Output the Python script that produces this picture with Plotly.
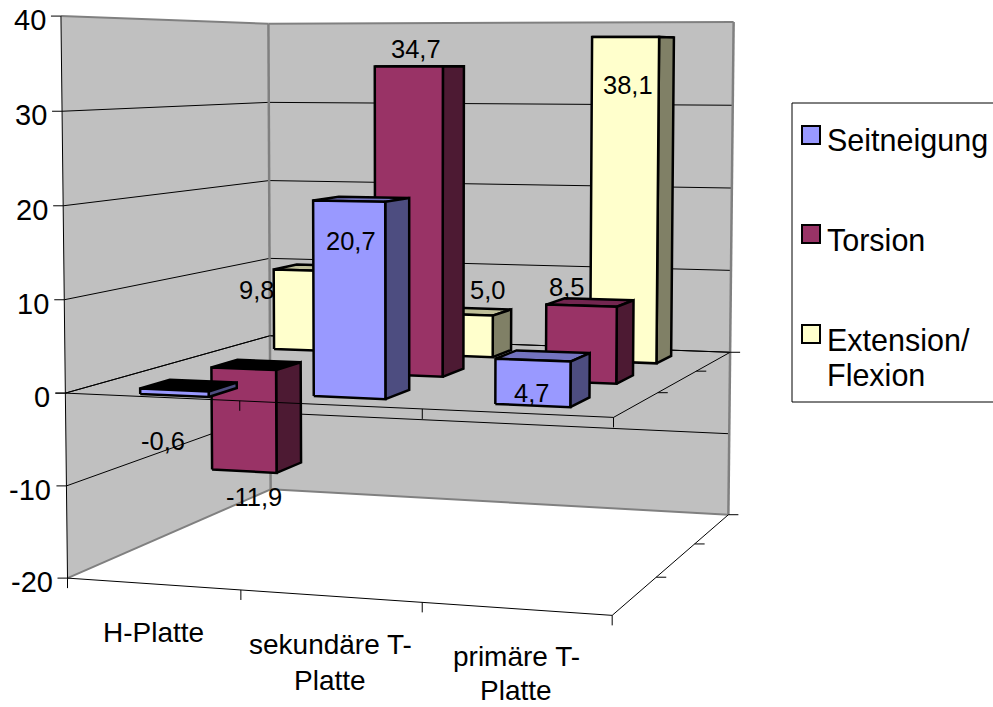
import numpy as np
import plotly.graph_objects as go

# Chart data
categories = ["H-Platte", "sekundäre T-Platte", "primäre T-Platte"]
category_lines = [["H-Platte"], ["sekundäre T-", "Platte"], ["primäre T-", "Platte"]]
series_names = ["Seitneigung", "Torsion", "Extension/Flexion"]
legend_lines = [["Seitneigung"], ["Torsion"], ["Extension/", "Flexion"]]
seitneigung = [-0.6, 20.7, 4.7]
torsion = [-11.9, 34.7, 8.5]
extension_flexion = [9.8, 5.0, 38.1]
value_ticks = [40, 30, 20, 10, 0, -10, -20]

# Face colours per series: front, side, top
series_faces = [
    ("#9999FF", "#4D4D80", "#7373BF"),
    ("#993366", "#4D1A33", "#732650"),
    ("#FFFFCC", "#808066", "#BFBF99"),
]
WALL = "#C0C0C0"
WALL_EDGE = "#808080"

# Camera calibration: (category, depth, value) -> screen position of the plot box
CAL_SCENE = np.array([
    [0, 0, 40], [0, 0, 0], [0, 0, -20], [0, 0, 20], [0, 0, -10],
    [0, 3, 40], [0, 3, 0], [0, 3, -20], [0, 3, 20], [0, 3, -10],
    [3, 3, 40], [3, 3, 0], [3, 3, -20], [3, 3, 20], [3, 3, -10],
    [3, 0, 0], [3, 0, -20], [1, 0, -20], [2, 0, -20], [3, 1, -20], [3, 2, -20],
    [2, 0, 0], [3, 1, 0], [3, 2, 0],
], dtype=float)
CAL_SCREEN = np.array([
    [61, 16], [66, 393], [67, 578], [63.5, 206], [66.5, 486],
    [268, 23], [271, 336], [270, 489], [269, 181], [270.5, 413],
    [733, 22], [730, 353], [728, 515], [732, 188], [728.5, 433],
    [613, 417], [612, 615], [240, 590], [422, 602], [657, 577], [695, 544],
    [422, 410], [658, 393], [698, 371],
], dtype=float)


def solve_camera(scene, screen):
    rows = []
    s = screen / 500.0
    for (x, y, z), (u, v) in zip(scene, s):
        p = [x, y, z / 20.0, 1.0]
        rows.append(p + [0, 0, 0, 0] + [-u * c for c in p])
        rows.append([0, 0, 0, 0] + p + [-v * c for c in p])
    return np.linalg.svd(np.array(rows))[2][-1].reshape(3, 4)


CAMERA = solve_camera(CAL_SCENE, CAL_SCREEN)


def project(x, y, z):
    h = CAMERA @ np.array([x, y, z / 20.0, 1.0])
    return h[0] / h[2] * 500.0, h[1] / h[2] * 500.0


fig = go.Figure()


def polygon(points, fill=None, line="#000000", width=1.0):
    pts = [project(*p) for p in points]
    fig.add_trace(go.Scatter(
        x=[p[0] for p in pts], y=[p[1] for p in pts],
        mode="lines" if width > 0 else "none",
        fill="toself" if fill else None,
        fillcolor=fill,
        line=dict(color=line, width=width, simplify=False),
        hoverinfo="skip", showlegend=False,
    ))


def segment(a, b, color="#000000", width=1.0):
    polygon([a, b], None, color, width)


def tick(point, dx, dy):
    u, v = project(*point)
    fig.add_trace(go.Scatter(
        x=[u, u + dx], y=[v, v + dy], mode="lines",
        line=dict(color="#000000", width=1), hoverinfo="skip", showlegend=False,
    ))


# Walls
ZMIN, ZMAX = value_ticks[-1], value_ticks[0]
NX, NY = len(categories), len(series_names)
polygon([(0, 0, ZMIN), (0, NY, ZMIN), (0, NY, ZMAX), (0, 0, ZMAX), (0, 0, ZMIN)], WALL, WALL, 0)
polygon([(0, NY, ZMIN), (NX, NY, ZMIN), (NX, NY, ZMAX), (0, NY, ZMAX), (0, NY, ZMIN)], WALL, WALL, 0)

# Gridlines on both walls
for v in value_ticks[1:-1]:
    segment((0, 0, v), (0, NY, v))
    segment((0, NY, v), (NX, NY, v))

# Wall outline
segment((0, 0, ZMIN), (0, NY, ZMIN), WALL_EDGE, 2)
segment((0, NY, ZMIN), (NX, NY, ZMIN), WALL_EDGE, 2)
segment((0, NY, ZMIN), (0, NY, ZMAX), WALL_EDGE, 2.5)
segment((NX, NY, ZMIN), (NX, NY, ZMAX), WALL_EDGE, 2.5)
segment((0, 0, ZMAX), (0, NY, ZMAX), WALL_EDGE, 2)
segment((0, NY, ZMAX), (NX, NY, ZMAX), WALL_EDGE, 2)

# Axis frame at the bottom of the box
segment((0, 0, ZMIN), (0, 0, ZMAX))
segment((0, 0, ZMIN), (NX, 0, ZMIN))
segment((NX, 0, ZMIN), (NX, NY, ZMIN))
for v in value_ticks:
    tick((0, 0, v), -10, 0)
for i in range(NX + 1):
    tick((i, 0, ZMIN), 0, 10)
for j in range(1, NY + 1):
    tick((NX, j, ZMIN), 10, 0)

# Plane at value zero, the part behind the bars
segment((0, NY, 0), (NX, NY, 0))
segment((0, 0, 0), (0, NY, 0))
segment((NX, 0, 0), (NX, NY, 0))
for j in range(1, NY + 1):
    tick((NX, j, 0), 10, 0)

# Bars, back row first and left to right within a row
GAP = 0.3
BAR_EDGE = 2.5
all_series = [seitneigung, torsion, extension_flexion]
for row in reversed(range(NY)):
    front, side, top = series_faces[row]
    for col, value in enumerate(all_series[row]):
        x0, x1 = col + GAP, col + 1 - GAP
        y0, y1 = row + GAP, row + 1 - GAP
        upper = max(value, 0)
        lower = min(value, 0)
        top_color = "#000000" if value < 0 else top
        polygon([(x0, y0, upper), (x1, y0, upper), (x1, y1, upper), (x0, y1, upper), (x0, y0, upper)],
                top_color, "#000000", BAR_EDGE)
        polygon([(x1, y0, lower), (x1, y1, lower), (x1, y1, upper), (x1, y0, upper), (x1, y0, lower)],
                side, "#000000", BAR_EDGE)
        polygon([(x0, y0, lower), (x1, y0, lower), (x1, y0, upper), (x0, y0, upper), (x0, y0, lower)],
                front, "#000000", BAR_EDGE)

# Front edge of the zero plane lies over the hanging bars
segment((0, 0, 0), (NX, 0, 0))
for i in range(1, NX + 1):
    tick((i, 0, 0), 0, 10)
tick((0, 0, 0), -10, 0)

annotations = []


def text(u, v, s, size, anchor="center"):
    annotations.append(dict(
        x=u, y=v, xref="x", yref="y", text=s, showarrow=False,
        xanchor=anchor, yanchor="middle", borderpad=0,
        font=dict(family="Liberation Sans", size=size, color="#000000"),
    ))


# Value axis labels
for v in value_ticks:
    u, w = project(0, 0, v)
    text(u - 14, w + 4, str(v), 29, "right")

# Category labels, one text per line
CATEGORY_POS = [[(153, 632)], [(330, 644), (330, 680)], [(516, 656), (516, 690)]]
for lines, positions in zip(category_lines, CATEGORY_POS):
    for line, (u, v) in zip(lines, positions):
        text(u, v, line, 28)

# Value labels
LABEL_POS = [
    [(163, 441), (351, 241), (531, 393)],
    [(254, 497), (416, 49), (566, 287)],
    [(256, 290), (487, 290), (628, 85)],
]
for values, positions in zip(all_series, LABEL_POS):
    for value, (u, v) in zip(values, positions):
        text(u, v, f"{value:.1f}".replace(".", ","), 25.5)

# Legend
LEGEND_BOX = (792, 103, 1000, 402)
LEGEND_SWATCH_X = 811
LEGEND_TEXT_X = 826
LEGEND_SWATCH_Y = [135, 234, 334]
LEGEND_TEXT_Y = [[140], [240], [340, 375]]
fig.add_shape(type="rect", xref="x", yref="y", layer="below",
              x0=LEGEND_BOX[0], y0=LEGEND_BOX[1], x1=LEGEND_BOX[2], y1=LEGEND_BOX[3],
              line=dict(color="#000000", width=1), fillcolor="#FFFFFF")
for name, faces, sy, lines, ys in zip(series_names, series_faces, LEGEND_SWATCH_Y, legend_lines, LEGEND_TEXT_Y):
    fig.add_trace(go.Scatter(
        x=[LEGEND_SWATCH_X], y=[sy], mode="markers", name=name,
        marker=dict(symbol="square", size=18, color=faces[0], line=dict(color="#000000", width=2)),
        hoverinfo="skip", showlegend=False,
    ))
    for line, v in zip(lines, ys):
        text(LEGEND_TEXT_X, v, line, 30.5, "left")

fig.update_layout(
    width=993, height=707,
    margin=dict(l=0, r=0, t=0, b=0),
    paper_bgcolor="#FFFFFF", plot_bgcolor="#FFFFFF",
    xaxis=dict(range=[0, 993], visible=False, fixedrange=True),
    yaxis=dict(range=[707, 0], visible=False, fixedrange=True),
    showlegend=False,
    annotations=annotations,
)
fig.write_html("out.html", config=dict(displayModeBar=False))
